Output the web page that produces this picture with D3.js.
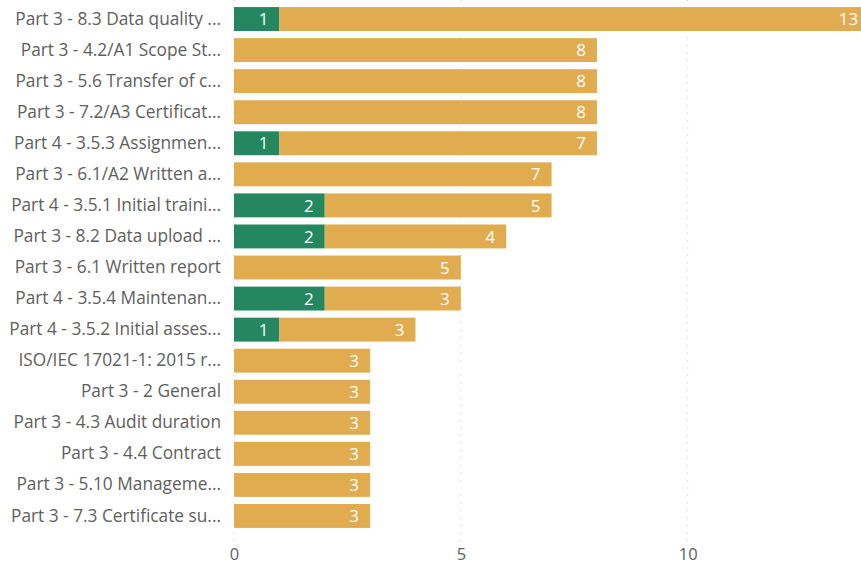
<!DOCTYPE html>
<html>
<head>
<meta charset="utf-8">
<script src="https://cdn.jsdelivr.net/npm/d3@7"></script>
<style>
  body { margin: 0; background: #fff; overflow: hidden; }
  text { font-family: "Open Sans", "Noto Sans", sans-serif; }
</style>
</head>
<body>
<svg id="chart"></svg>
<script>
const categories = [
  "Part 3 - 8.3 Data quality ...",
  "Part 3 - 4.2/A1 Scope St...",
  "Part 3 - 5.6 Transfer of c...",
  "Part 3 - 7.2/A3 Certificat...",
  "Part 4 - 3.5.3 Assignmen...",
  "Part 3 - 6.1/A2 Written a...",
  "Part 4 - 3.5.1 Initial traini...",
  "Part 3 - 8.2 Data upload ...",
  "Part 3 - 6.1 Written report",
  "Part 4 - 3.5.4 Maintenan...",
  "Part 4 - 3.5.2 Initial asses...",
  "ISO/IEC 17021-1: 2015 r...",
  "Part 3 - 2 General",
  "Part 3 - 4.3 Audit duration",
  "Part 3 - 4.4 Contract",
  "Part 3 - 5.10 Manageme...",
  "Part 3 - 7.3 Certificate su..."
];
const greenValues = [1, 0, 0, 0, 1, 0, 2, 2, 0, 2, 1, 0, 0, 0, 0, 0, 0];
const goldValues  = [13, 8, 8, 8, 7, 7, 5, 4, 5, 3, 3, 3, 3, 3, 3, 3, 3];
const xTicks = [0, 5, 10];

const width = 861, height = 565;
const plotLeft = 234, plotRight = 861, plotTop = 3.5, plotBottom = 531.5;

const svg = d3.select("#chart").attr("width", width).attr("height", height);

const x = d3.scaleLinear().domain([0, 13.82]).range([plotLeft, plotRight]);
const y = d3.scaleBand().domain(categories).range([plotTop, plotBottom]).paddingInner(0.23).paddingOuter(0.115);

// dotted gridlines
svg.append("g").selectAll("line")
  .data(xTicks)
  .enter().append("line")
  .attr("x1", d => x(d)).attr("x2", d => x(d))
  .attr("y1", 0).attr("y2", 545)
  .attr("stroke", "#c8c6c4")
  .attr("stroke-width", 1)
  .attr("stroke-dasharray", "1,6.5");

const rows = categories.map((c, i) => ({ cat: c, g: greenValues[i], y: goldValues[i] }));

const series = [
  { key: "g", color: "#248760", start: d => 0, end: d => d.g },
  { key: "y", color: "#e0ac4f", start: d => d.g, end: d => d.g + d.y }
];

series.forEach(s => {
  const grp = svg.append("g");
  const data = rows.filter(d => d[s.key] > 0);
  grp.selectAll("rect")
    .data(data)
    .enter().append("rect")
    .attr("x", d => x(s.start(d)))
    .attr("y", d => y(d.cat))
    .attr("width", d => x(s.end(d)) - x(s.start(d)))
    .attr("height", y.bandwidth())
    .attr("fill", s.color);
  grp.selectAll("text")
    .data(data)
    .enter().append("text")
    .attr("x", d => x(s.end(d)) - 11)
    .attr("y", d => y(d.cat) + y.bandwidth() / 2)
    .attr("dy", "0.36em")
    .attr("text-anchor", "end")
    .attr("fill", "#fff")
    .attr("font-size", 17)
    .text(d => d[s.key]);
});

// category labels
const yAxis = d3.axisLeft(y).tickSize(0).tickPadding(13);
const yg = svg.append("g").attr("transform", `translate(${plotLeft},0)`).call(yAxis);
yg.select(".domain").remove();
yg.selectAll("text")
  .attr("fill", "#605e5c")
  .style("font-size", "17.3px")
  .style("font-family", "'Open Sans', 'Noto Sans', sans-serif");

// x axis
const xAxis = d3.axisBottom(x).tickValues(xTicks).tickSize(0).tickPadding(8);
const xg = svg.append("g").attr("transform", `translate(0,540)`).call(xAxis);
xg.select(".domain").remove();
xg.selectAll("text")
  .attr("fill", "#605e5c")
  .style("font-size", "16.5px")
  .style("font-family", "'Open Sans', 'Noto Sans', sans-serif");
</script>
</body>
</html>
